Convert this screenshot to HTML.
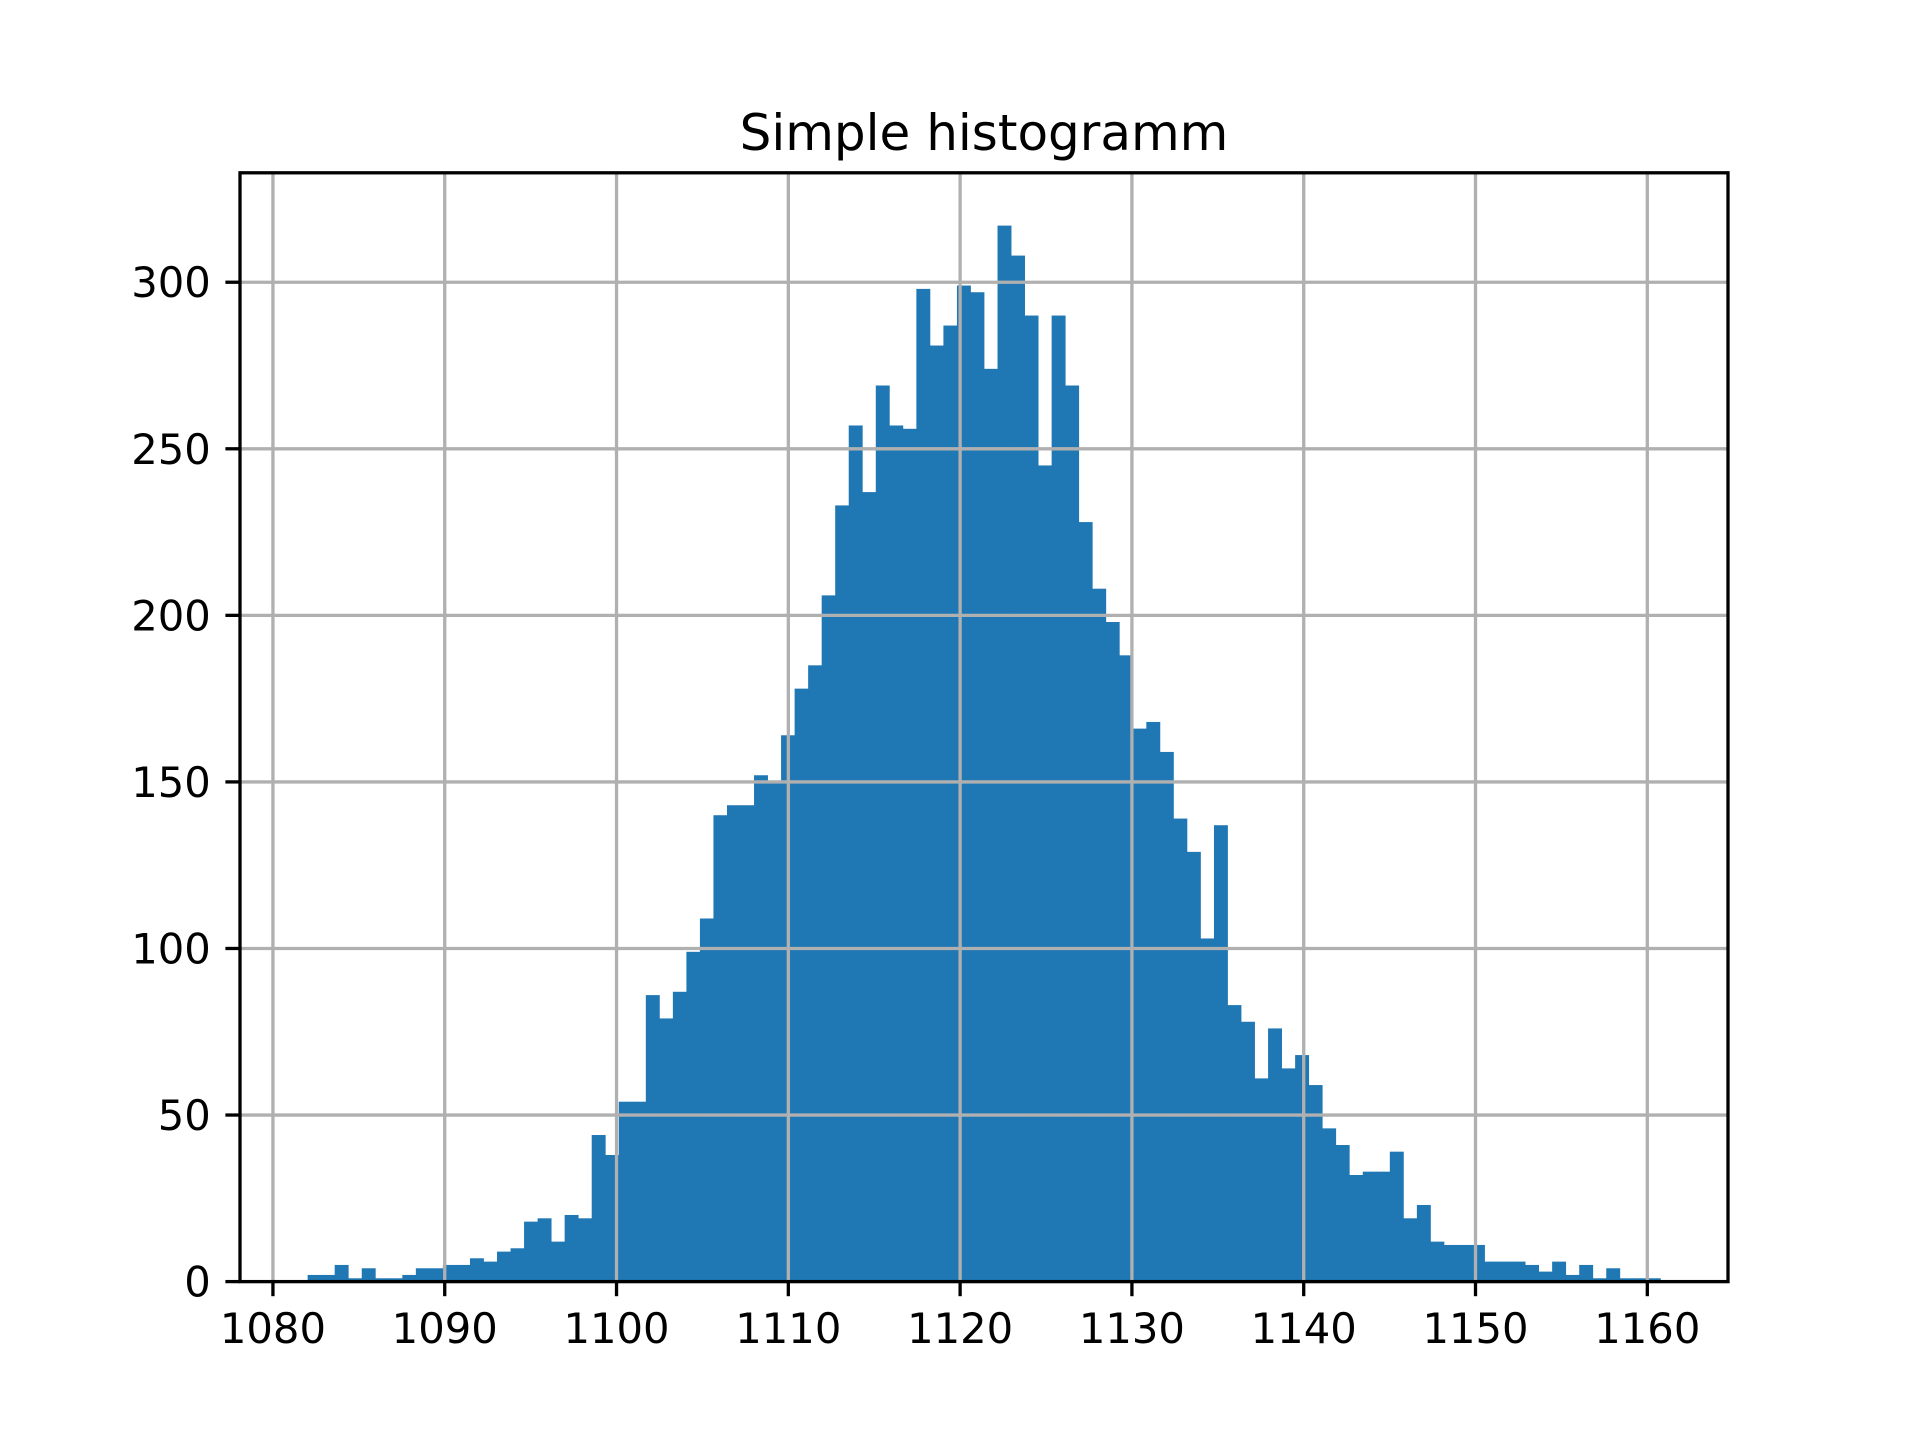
<!DOCTYPE html>
<html><head><meta charset="utf-8"><style>
html,body{margin:0;padding:0;background:#fff}
svg{display:block}
text{font-family:"DejaVu Sans","Liberation Sans",sans-serif;fill:#000}
</style></head>
<body>
<svg id="chart" width="1920" height="1440" viewBox="0 0 1920 1440" xmlns="http://www.w3.org/2000/svg">
<rect x="0" y="0" width="1920" height="1440" fill="#fff"/>
<rect x="240" y="172.8" width="1488" height="1108.8" fill="#fff"/>
<g id="bars"></g>
<g id="grid"></g>
<g id="axes"></g>
<text x="984" y="150" font-size="50" text-anchor="middle">Simple histogramm</text>
</svg>
<script>
const counts = [2,2,5,1,4,1,1,2,4,4,5,5,7,6,9,10,18,19,12,20,19,44,38,54,54,86,79,87,99,109,140,143,143,152,150,164,178,185,206,233,257,237,269,257,256,298,281,287,299,297,274,317,308,290,245,290,269,228,208,198,188,166,168,159,139,129,103,137,83,78,61,76,64,68,59,46,41,32,33,33,39,19,23,12,11,11,11,6,6,6,5,3,6,2,5,1,4,1,1,1];
const binStart = 1082.02;
const binEnd = 1160.76;
const xTicks = [1080,1090,1100,1110,1120,1130,1140,1150,1160];
const yTicks = [0,50,100,150,200,250,300];

const L=240,R=1728,T=172.8,B=1281.6;
const nb=counts.length, bw=(binEnd-binStart)/nb;
const xmin=binStart-0.05*(binEnd-binStart), xmax=binEnd+0.05*(binEnd-binStart);
const ymax=Math.max(...counts)*1.05;
const xs=v=>L+(v-xmin)/(xmax-xmin)*(R-L);
const ys=v=>B-v/ymax*(B-T);
const NS="http://www.w3.org/2000/svg";
function mk(tag,attrs,parent){const e=document.createElementNS(NS,tag);for(const k in attrs)e.setAttribute(k,attrs[k]);parent.appendChild(e);return e;}
const grid=document.getElementById('grid'),bars=document.getElementById('bars'),axes=document.getElementById('axes');
xTicks.forEach(t=>{
  const g=mk('line',{x1:xs(t),x2:xs(t),y1:T,y2:B,stroke:'#b0b0b0','stroke-width':3.3},grid);
  
  
  const tk=mk('line',{x1:xs(t),x2:xs(t),y1:B,y2:B+14.6,stroke:'#000','stroke-width':3.3},axes);
  
  
  const tx=mk('text',{x:xs(t),y:B+14.6+14.6+32,'font-size':41.7,'text-anchor':'middle'},axes);
  tx.textContent=t;
  
  
});
yTicks.forEach(t=>{
  const g=mk('line',{x1:L,x2:R,y1:ys(t),y2:ys(t),stroke:'#b0b0b0','stroke-width':3.3},grid);
  
  
  const tk=mk('line',{x1:L-14.6,x2:L,y1:ys(t),y2:ys(t),stroke:'#000','stroke-width':3.3},axes);
  
  
  const tx=mk('text',{x:L-14.6-14.6,y:ys(t)+15,'font-size':41.7,'text-anchor':'end'},axes);
  tx.textContent=t;
  
  
});
counts.forEach((c,i)=>{
  const x0=xs(binStart+i*bw), x1=xs(binStart+(i+1)*bw);
  const r=mk('rect',{x:x0,y:ys(c),width:x1-x0+0.4,height:B-ys(c),fill:'#1f77b4'},bars);
  
  
});
const frame=mk('rect',{x:L,y:T,width:R-L,height:B-T,fill:'none',stroke:'#000','stroke-width':3.3},axes);


</script>
</body></html>
